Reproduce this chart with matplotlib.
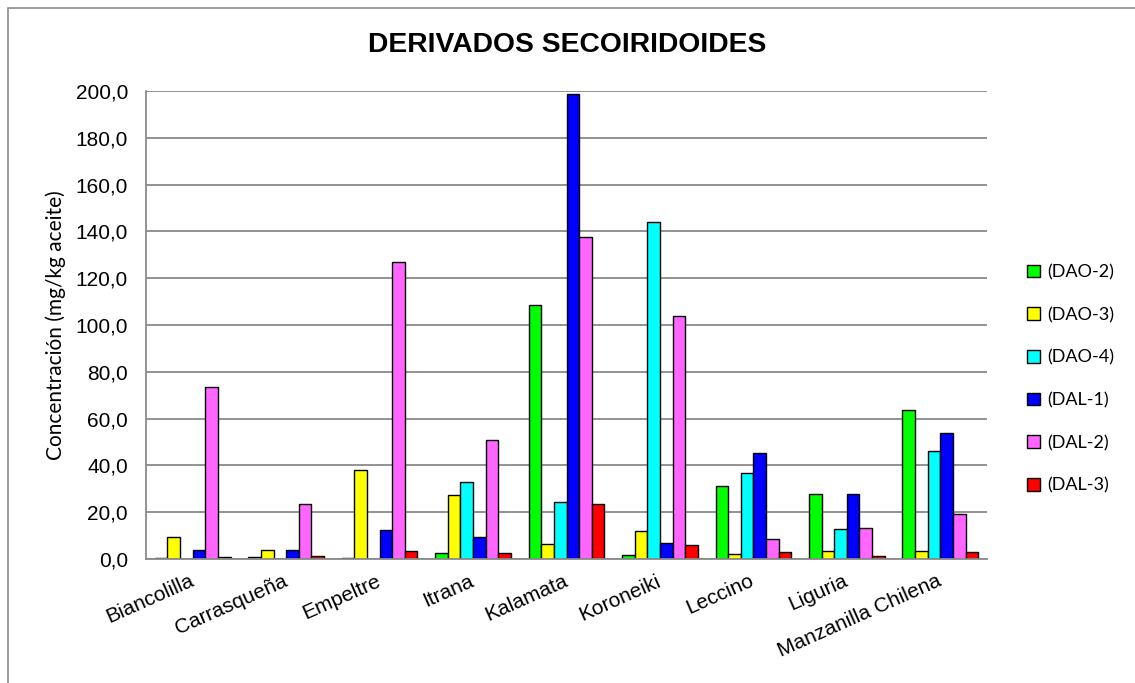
import matplotlib
matplotlib.use("Agg")
import matplotlib.pyplot as plt
import matplotlib.transforms as mtransforms
import numpy as np
from matplotlib.patches import Rectangle

categories = ["Biancolilla", "Carrasqueña", "Empeltre", "Itrana", "Kalamata",
              "Koroneiki", "Leccino", "Liguria", "Manzanilla Chilena"]
series_names = ["(DAO-2)", "(DAO-3)", "(DAO-4)", "(DAL-1)", "(DAL-2)", "(DAL-3)"]
dao2 = [0.3, 1.0, 0.3, 2.6, 108.7, 1.7, 31.0, 27.9, 63.8]
dao3 = [9.2, 4.0, 37.9, 27.5, 6.5, 11.8, 2.0, 3.5, 3.5]
dao4 = [0.0, 0.0, 0.0, 32.9, 24.5, 144.1, 36.6, 12.8, 46.0]
dal1 = [4.0, 3.7, 12.2, 9.2, 198.7, 6.8, 45.3, 27.9, 53.7]
dal2 = [73.5, 23.3, 127.0, 50.7, 137.4, 103.7, 8.5, 13.2, 19.1]
dal3 = [0.8, 1.2, 3.4, 2.6, 23.6, 5.8, 2.8, 1.4, 2.8]
series_values = [dao2, dao3, dao4, dal1, dal2, dal3]
colors = ["#00FF00", "#FFFF00", "#00FFFF", "#0000FF", "#FF66FF", "#FF0000"]
y_ticks = [0, 20, 40, 60, 80, 100, 120, 140, 160, 180, 200]

W, H = 1135, 683
fig = plt.figure(figsize=(W / 100, H / 100), dpi=100)
fig.patch.set_facecolor("white")

# outer chart frame
fig.add_artist(Rectangle((8 / W, -0.05), 1.2, (H - 8) / H + 0.05,
                         transform=fig.transFigure, fill=False,
                         edgecolor="#8c8c8c", linewidth=1.2))

ax = fig.add_axes([146 / W, (H - 559) / H, (987 - 146) / W, (559 - 91) / H])
grid_col = "#8a8a8a"

x = np.arange(len(categories))
bw = 0.135
for i, (vals, col, name) in enumerate(zip(series_values, colors, series_names)):
    ax.bar(x + (i - 2.5) * bw, vals, width=bw, color=col, edgecolor="black",
           linewidth=1.0, label=name, zorder=3)

ax.set_xlim(-0.5, len(categories) - 0.5)
ax.set_ylim(0, 200)
ax.set_yticks(y_ticks)
ax.set_yticklabels([f"{v:.1f}".replace(".", ",") for v in y_ticks],
                   fontsize=15, family="Liberation Sans")
ax.yaxis.grid(True, color=grid_col, linewidth=1.3, zorder=0)
ax.set_axisbelow(True)
ax.tick_params(axis="y", length=0, pad=13)
ax.tick_params(axis="x", length=0, pad=9)
ax.set_xticks(x)
ax.set_xticklabels(categories, rotation=24, ha="right", rotation_mode="anchor",
                   fontsize=15, family="Liberation Sans")
shift = mtransforms.ScaledTranslation(-4 / 100, 0, fig.dpi_scale_trans)
for lbl in ax.get_xticklabels():
    lbl.set_transform(lbl.get_transform() + shift)
for s in ["top", "right"]:
    ax.spines[s].set_visible(False)
for s in ["left", "bottom"]:
    ax.spines[s].set_color(grid_col)
    ax.spines[s].set_linewidth(1.3)
    ax.spines[s].set_zorder(4)

ax.set_ylabel("Concentración (mg/kg aceite)", fontsize=15, family="Lato",
              va="center")
ax.yaxis.set_label_coords((56 - 146) / (987 - 146), 0.5)

fig.text(567 / W, 1 - 45 / H, "DERIVADOS SECOIRIDOIDES", ha="center",
         va="center", fontsize=20.3, fontweight="bold", family="Liberation Sans")

leg = ax.legend(loc="upper left", bbox_to_anchor=(1020 / W, 1 - 257 / H),
                bbox_transform=fig.transFigure, frameon=False,
                prop={"family": "Lato", "size": 13},
                handlelength=0.7, handleheight=0.7, handletextpad=0.4,
                labelspacing=1.47, borderaxespad=0)

fig.savefig("out.png", dpi=100, facecolor="white")
